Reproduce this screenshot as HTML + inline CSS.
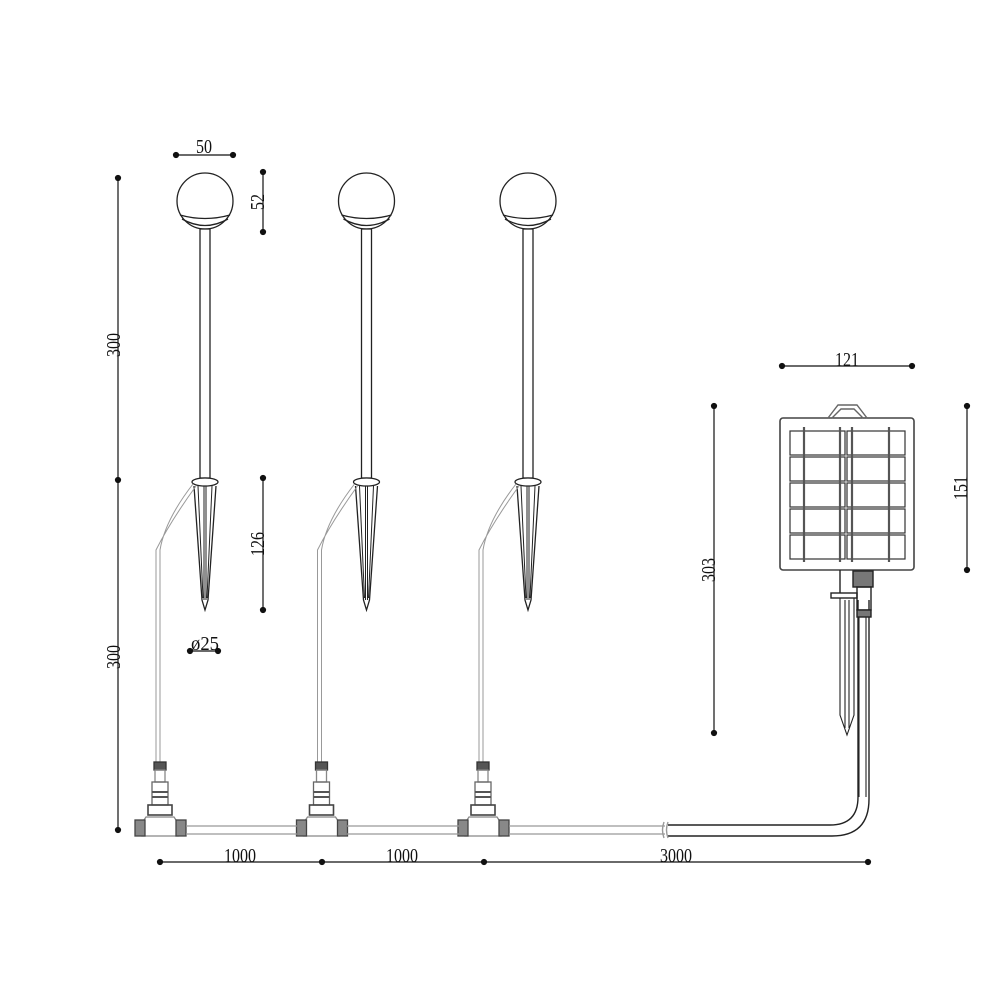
<!DOCTYPE html>
<html><head><style>body{margin:0;background:#fff}svg{display:block}text{font-family:"Liberation Serif",serif;font-size:20px;fill:#111}</style></head><body>
<svg width="1000" height="1000" viewBox="0 0 1000 1000" xmlns="http://www.w3.org/2000/svg">
<defs>
<g id="lamp" fill="none" stroke="#222" stroke-width="1.3">
<circle cx="205" cy="201" r="28" fill="#fff"/>
<path d="M180 215 Q205 222 230 215"/>
<path d="M182 219 Q205 232 228 219"/>
<rect x="200" y="229" width="10" height="249" fill="#fff"/>
<ellipse cx="205" cy="482" rx="13" ry="4" fill="#fff"/>
<path d="M194 486 L202 600 L205 610 L208 600 L216 486"/>
<path d="M198 486 L203 598 M212 486 L207 598 M204 486 L204 600 M206 486 L206 600" stroke-width="1"/>
<path d="M193 484 Q165 520 160 550 L160 762 M196 486 Q170 522 156 550 L156 762" stroke="#999" stroke-width="1"/>
<rect x="154" y="762" width="12" height="8" fill="#555" stroke="#333"/>
<rect x="155" y="770" width="10" height="12" stroke="#888"/>
<rect x="152" y="782" width="16" height="23" stroke="#666"/>
<path d="M152 792 H168 M152 797 H168" stroke="#555" stroke-width="2"/>
<rect x="148" y="805" width="24" height="10" stroke="#444" stroke-width="1.6"/>
<path d="M146 817 H174 L178 823 V836 H142 V823 Z" stroke="#888"/>
<rect x="135" y="820" width="10" height="16" fill="#888" stroke="#444"/>
<rect x="176" y="820" width="10" height="16" fill="#888" stroke="#444"/>
</g>
</defs>
<use href="#lamp"/>
<use href="#lamp" transform="translate(161.5 0)"/>
<use href="#lamp" transform="translate(323 0)"/>
<g fill="none" stroke="#999" stroke-width="1.2">
<path d="M186 826 H297 M186 834 H297 M347 826 H459 M347 834 H459 M509 826 H665 M509 834 H665"/>
</g>
<g fill="none" stroke="#222" stroke-width="1.4">
<path d="M668 825 H830 Q858 825 858 797 V600"/>
<path d="M668 836 H832 Q869 836 869 799 V600"/>
<path d="M664 822 Q661 830 664 838 M668 822 Q665 830 668 838" stroke="#999"/>
<rect x="780" y="418" width="134" height="152" rx="3" stroke-width="1.6" stroke="#444"/>
<path d="M828 418 L838 405 H857 L867 418 M832 418 L841 409 H854 L863 418" stroke="#666"/>
<g stroke="#333" stroke-width="1.2">
<rect x="790" y="431" width="55" height="24"/><rect x="847" y="431" width="58" height="24"/>
<rect x="790" y="457" width="55" height="24"/><rect x="847" y="457" width="58" height="24"/>
<rect x="790" y="483" width="55" height="24"/><rect x="847" y="483" width="58" height="24"/>
<rect x="790" y="509" width="55" height="24"/><rect x="847" y="509" width="58" height="24"/>
<rect x="790" y="535" width="55" height="24"/><rect x="847" y="535" width="58" height="24"/>
</g>
<path d="M804 427 V562 M840 427 V562 M852 427 V562 M889 427 V562" stroke="#555" stroke-width="2.2"/>
<rect x="853" y="571" width="20" height="16" fill="#777"/>
<rect x="857" y="587" width="14" height="23"/>
<rect x="857" y="610" width="14" height="7" fill="#777"/>
<path d="M859 617 V797 M866 617 V797" stroke-width="1.1"/>
<path d="M840 570 V593"/>
<rect x="831" y="593" width="26" height="5"/>
<path d="M840 598 V715 L847 735 L854 715 V598 M845 600 V728 M849 600 V728" stroke-width="1.1"/>
</g>
<g stroke="#111" stroke-width="1.2" fill="#111">
<path d="M118 178 V830"/><circle cx="118" cy="178" r="2.5"/><circle cx="118" cy="480" r="2.5"/><circle cx="118" cy="830" r="2.5"/>
<path d="M176 155 H233"/><circle cx="176" cy="155" r="2.5"/><circle cx="233" cy="155" r="2.5"/>
<path d="M263 172 V232"/><circle cx="263" cy="172" r="2.5"/><circle cx="263" cy="232" r="2.5"/>
<path d="M263 478 V610"/><circle cx="263" cy="478" r="2.5"/><circle cx="263" cy="610" r="2.5"/>
<path d="M190 651 H218"/><circle cx="190" cy="651" r="2.5"/><circle cx="218" cy="651" r="2.5"/>
<path d="M160 862 H868"/><circle cx="160" cy="862" r="2.5"/><circle cx="322" cy="862" r="2.5"/><circle cx="484" cy="862" r="2.5"/><circle cx="868" cy="862" r="2.5"/>
<path d="M782 366 H912"/><circle cx="782" cy="366" r="2.5"/><circle cx="912" cy="366" r="2.5"/>
<path d="M967 406 V570"/><circle cx="967" cy="406" r="2.5"/><circle cx="967" cy="570" r="2.5"/>
<path d="M714 406 V733"/><circle cx="714" cy="406" r="2.5"/><circle cx="714" cy="733" r="2.5"/>
</g>
<text x="196" y="153" textLength="16" lengthAdjust="spacingAndGlyphs">50</text>
<text x="224" y="862" textLength="32" lengthAdjust="spacingAndGlyphs">1000</text>
<text x="386" y="862" textLength="32" lengthAdjust="spacingAndGlyphs">1000</text>
<text x="660" y="862" textLength="32" lengthAdjust="spacingAndGlyphs">3000</text>
<text x="835" y="366" textLength="24" lengthAdjust="spacingAndGlyphs">121</text>
<text x="191" y="650" textLength="28" lengthAdjust="spacingAndGlyphs">ø25</text>
<text transform="translate(120 357) rotate(-90)" textLength="24" lengthAdjust="spacingAndGlyphs">300</text>
<text transform="translate(120 669) rotate(-90)" textLength="24" lengthAdjust="spacingAndGlyphs">300</text>
<text transform="translate(264 210) rotate(-90)" textLength="16" lengthAdjust="spacingAndGlyphs">52</text>
<text transform="translate(264 556) rotate(-90)" textLength="24" lengthAdjust="spacingAndGlyphs">126</text>
<text transform="translate(967 500) rotate(-90)" textLength="24" lengthAdjust="spacingAndGlyphs">151</text>
<text transform="translate(715 582) rotate(-90)" textLength="24" lengthAdjust="spacingAndGlyphs">303</text>
</svg>
</body></html>
